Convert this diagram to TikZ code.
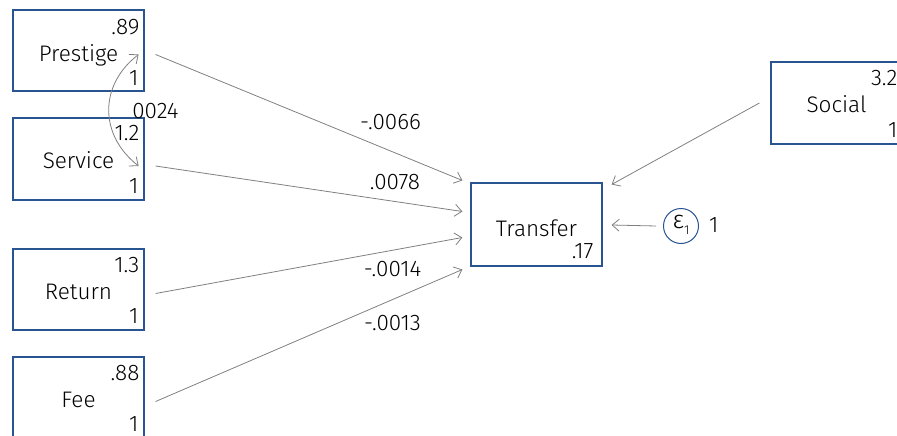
\documentclass[tikz,border=0pt]{standalone}
\usepackage{fontspec}
\setmainfont{Fira Sans}[UprightFont=* Light]
\usetikzlibrary{arrows.meta}

\definecolor{boxblue}{RGB}{40,84,146}
\definecolor{pathgray}{RGB}{128,128,128}

\begin{document}
\begin{tikzpicture}[x=1pt,y=-1pt,
  font=\fontsize{22.5}{26}\selectfont,
  var/.style={draw=boxblue, line width=1.2pt, fill=white, rectangle,
    minimum width=131pt, minimum height=81pt, inner sep=0pt},
  path/.style={draw=pathgray, line width=0.8pt,
    -{Straight Barb[length=7pt,width=12pt]}},
  covpath/.style={draw=pathgray, line width=0.8pt,
    {Straight Barb[length=7pt,width=12pt]}-{Straight Barb[length=7pt,width=12pt]}},
  lbl/.style={anchor=base, inner sep=0pt, text=black},
  val/.style={anchor=base east, inner sep=0pt, text=black},
  err/.style={draw=boxblue, line width=1pt, circle, minimum size=35pt, inner sep=0pt}
]
\useasboundingbox (0,0) rectangle (897,436);
\clip (0,0) rectangle (897,436);

% exogenous variables
\node[var] (prestige) at (78.5,50.5) {};
\node[var, minimum height=82pt] (service) at (78.5,159) {};
\node[var] (return) at (78.5,289.5) {};
\node[var] (fee) at (78.5,397.5) {};
\node[var, minimum height=82pt] (social) at (836.5,103) {};

% endogenous variable and its error term
\node[var, minimum height=83pt] (transfer) at (536.5,224.5) {};
\node[err] (eps) at (681,226) {};

% box contents: name, mean (top right), intercept constraint (bottom right)
% (shifts are in page orientation: negative yshift moves down)
\node[lbl] (prestigeName) at ([yshift=-11pt]prestige.center) {Prestige};
\node[val] (prestigeMean) at ([xshift=-5pt,yshift=-25pt]prestige.north east) {.89};
\node[val] (prestigeOne) at ([xshift=-6pt,yshift=6pt]prestige.south east) {1};

\node[lbl] (serviceName) at ([yshift=-9pt]service.center) {Service};
\node[val] (serviceMean) at ([xshift=-5pt,yshift=-23pt]service.north east) {1.2};
\node[val] (serviceOne) at ([xshift=-6pt,yshift=7pt]service.south east) {1};

\node[lbl] (returnName) at ([yshift=-10pt]return.center) {Return};
\node[val] (returnMean) at ([xshift=-5pt,yshift=-24pt]return.north east) {1.3};
\node[val] (returnOne) at ([xshift=-6pt,yshift=7pt]return.south east) {1};

\node[lbl] (feeName) at ([yshift=-10pt]fee.center) {Fee};
\node[val] (feeMean) at ([xshift=-5pt,yshift=-24pt]fee.north east) {.88};
\node[val] (feeOne) at ([xshift=-6pt,yshift=7pt]fee.south east) {1};

\node[lbl] (socialName) at ([yshift=-9pt]social.center) {Social};
\node[val] (socialMean) at ([xshift=-5pt,yshift=-24pt]social.north east) {3.2};
\node[val] (socialOne) at ([xshift=-5pt,yshift=7pt]social.south east) {1};

\node[lbl] (transferName) at ([yshift=-12pt]transfer.center) {Transfer};
\node[val] (transferVar) at ([xshift=-9pt,yshift=8pt]transfer.south east) {.17};

\node[inner sep=0pt] (epsName) at ([yshift=1pt]eps.center) {\fontsize{25}{28}\selectfont ε\raisebox{-0.45ex}{\fontsize{13}{15}\selectfont 1}};
\node[inner sep=0pt, anchor=west] (epsVar) at (709,225) {1};

% regression paths
\path[path] ([xshift=11pt,yshift=-4pt]prestige.east) -- ([xshift=-8pt,yshift=44pt]transfer.west);
\path[path] ([xshift=11pt,yshift=-7pt]service.east) -- ([xshift=-8pt,yshift=13pt]transfer.west);
\path[path] ([xshift=11pt,yshift=-4pt]return.east) -- ([xshift=-8pt,yshift=-13pt]transfer.west);
\path[path] ([xshift=11pt,yshift=-4pt]fee.east) -- ([xshift=-8pt,yshift=-45pt]transfer.west);
\path[path] ([xshift=-11pt]social.west) -- ([xshift=9pt,yshift=40pt]transfer.east);
\coordinate (epsStart) at ([xshift=-7pt]eps.west);
\path[path] (epsStart) -- ([xshift=9pt,yshift=-0.5pt]transfer.east);

% covariance between Prestige and Service
\path[covpath] ([xshift=-6pt,yshift=-4pt]prestige.east)
  .. controls (99,85) and (99,135) .. ([xshift=-6pt,yshift=-7pt]service.east);

% path coefficients
\node[lbl] (bPrestige) at (390.5,129) {-.0066};
\node[lbl] (bService) at (395,189) {.0078};
\node[lbl] (bReturn) at (392.5,276) {-.0014};
\node[lbl] (bFee) at (392.5,330) {-.0013};
\node[lbl] (covPS) at (155.5,118) {0024};
\end{tikzpicture}
\end{document}
